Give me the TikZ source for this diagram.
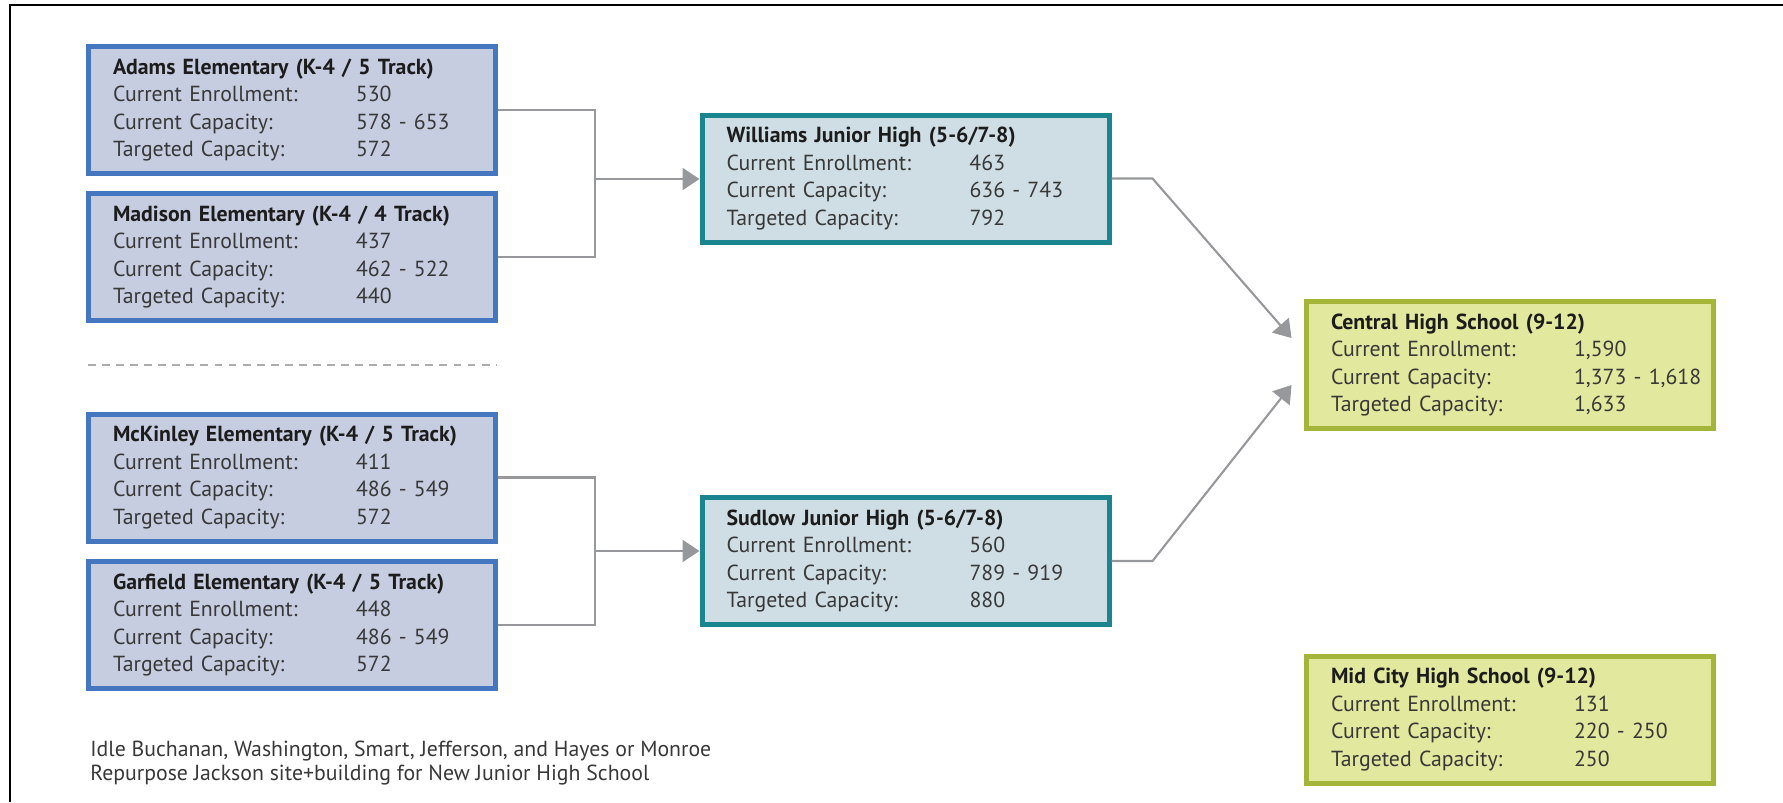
\documentclass[tikz,border=0pt]{standalone}
\usepackage{fontspec}
\setmainfont{PT Sans}
\usetikzlibrary{arrows.meta}
\definecolor{elemfill}{HTML}{C6CDE0}
\definecolor{elemline}{HTML}{4477BF}
\definecolor{juniorfill}{HTML}{CFDEE4}
\definecolor{juniorline}{HTML}{1B858F}
\definecolor{highfill}{HTML}{E2E89E}
\definecolor{highline}{HTML}{A5B53A}
\definecolor{wire}{HTML}{97989B}
\definecolor{ink}{HTML}{383838}
\definecolor{headink}{HTML}{1C1C1C}
\newcommand{\schoolrows}[3]{%
  \makebox[4.86cm][l]{Current Enrollment:}\mbox{#1}\\
  \makebox[4.86cm][l]{Current Capacity:}\mbox{#2}\\
  \makebox[4.86cm][l]{Targeted Capacity:}\mbox{#3}}
\newcommand{\schoolname}[1]{\textcolor{headink}{\bfseries\mbox{#1}}}
\tikzset{
  school/.style={draw,line width=0.1cm,align=left,text width=7.16cm,
    minimum width=8.14cm,minimum height=2.54cm,inner sep=0pt,
    font=\fontsize{12.4}{15.6}\selectfont},
  elem/.style={school,draw=elemline,fill=elemfill},
  junior/.style={school,draw=juniorline,fill=juniorfill},
  high/.style={school,draw=highline,fill=highfill},
  link/.style={draw=wire,line width=1.2pt},
  flow/.style={link,-{Triangle[length=3.4mm,width=4.4mm]}}
}

\begin{document}
\begin{tikzpicture}[text=ink]
  \useasboundingbox (0,0) rectangle (35.66,-16.04);
  \draw[line width=1.1pt] (0.2,-16.04) |- (35.66,-0.1);

  \node[elem] (adams) at (5.84,-2.2)
    {\schoolname{Adams Elementary (K-4 / 5 Track)}\\\schoolrows{530}{578 - 653}{572}};
  \node[elem] (madison) at (5.84,-5.14)
    {\schoolname{Madison Elementary (K-4 / 4 Track)}\\\schoolrows{437}{462 - 522}{440}};
  \node[elem] (mckinley) at (5.84,-9.55)
    {\schoolname{McKinley Elementary (K-4 / 5 Track)}\\\schoolrows{411}{486 - 549}{572}};
  \node[elem] (garfield) at (5.84,-12.5)
    {\schoolname{Garfield Elementary (K-4 / 5 Track)}\\\schoolrows{448}{486 - 549}{572}};
  \node[junior] (williams) at (18.11,-3.57)
    {\schoolname{Williams Junior High (5-6/7-8)}\\\schoolrows{463}{636 - 743}{792}};
  \node[junior] (sudlow) at (18.11,-11.22)
    {\schoolname{Sudlow Junior High (5-6/7-8)}\\\schoolrows{560}{789 - 919}{880}};
  \node[high] (central) at (30.2,-7.3)
    {\schoolname{Central High School (9-12)}\\\schoolrows{1,590}{1,373 - 1,618}{1,633}};
  \node[high] (midcity) at (30.2,-14.39)
    {\schoolname{Mid City High School (9-12)}\\\schoolrows{131}{220 - 250}{250}};

  \draw[draw=wire!80,line width=1.2pt,dash pattern=on 4.5pt off 3.5pt]
    (1.76,-7.3) -- (9.94,-7.3);

  \coordinate (jw) at (11.9,-3.58);
  \coordinate (js) at (11.9,-11.02);
  \draw[link] (adams.east) -| (jw);
  \draw[link] (madison.east) -| (jw);
  \draw[flow] (jw) -- (williams.west |- jw);
  \draw[link] (mckinley.east) -| (js);
  \draw[link] (garfield.east) -| (js);
  \draw[flow] (js) -- (sudlow.west |- js);
  \draw[flow] (williams.east) -- ++(0.82,0) -- ([xshift=-0.25cm,yshift=0.54cm]central.west);
  \draw[flow] (sudlow.east) -- ++(0.82,0) -- ([xshift=-0.25cm,yshift=-0.4cm]central.west);

  \node[anchor=west,align=left,inner sep=0pt,font=\fontsize{12.4}{13.4}\selectfont] (note) at (1.8,-15.26)
    {Idle Buchanan, Washington, Smart, Jefferson, and Hayes or Monroe\\
     Repurpose Jackson site+building for New Junior High School};
\end{tikzpicture}
\end{document}
